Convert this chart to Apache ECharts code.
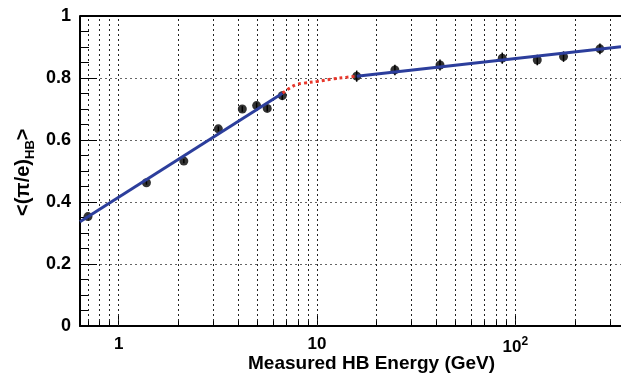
<!DOCTYPE html>
<html>
<head>
<meta charset="utf-8">
<script src="https://cdn.jsdelivr.net/npm/echarts@6/dist/echarts.min.js"></script>
<style>
html,body{margin:0;padding:0;background:#fff;}
#c{width:621px;height:376px;}
</style>
</head>
<body>
<div id="c"></div>
<script>
// ---- data ----
const energy = [0.70, 1.38, 2.13, 3.18, 4.20, 4.96, 5.61, 6.68, 15.85, 24.7, 41.7, 85.9, 129, 175, 267];
const ratio  = [0.353, 0.462, 0.532, 0.636, 0.700, 0.711, 0.702, 0.743, 0.806, 0.826, 0.842, 0.864, 0.858, 0.869, 0.894];
const errors = [0.006, 0.006, 0.007, 0.008, 0.009, 0.010, 0.010, 0.013, 0.018, 0.017, 0.018, 0.018, 0.017, 0.017, 0.017];

const fitLowX  = [0.638, 6.7];
const fitLowY  = [0.336, 0.751];
const fitHighX = [15.85, 341];
const fitHighY = [0.806, 0.901];
const transX = [6.7, 7.3, 7.9, 8.5, 10, 12, 14, 15.85];
const transY = [0.751, 0.768, 0.779, 0.783, 0.789, 0.797, 0.802, 0.806];

const xMin = 0.638, xMax = 341;
const gridX = [0.7, 0.8, 0.9, 1, 2, 3, 4, 5, 6, 7, 8, 9, 10, 20, 30, 40, 50, 60, 70, 80, 90, 100, 200, 300];
const majorX = [1, 10, 100];
const xLabels = {1: '1', 10: '10', 100: '{b|10}{s|2}'};

const FONT = '"Liberation Sans", Arial, Helvetica, sans-serif';

const zip = (a, b) => a.map((v, i) => [v, b[i]]);

const gridLines = gridX.map(v => ({xAxis: v}));
const minorTicks = gridX.filter(v => majorX.indexOf(v) < 0).map(v => [
  {coord: [v, 0]}, {coord: [v, 0.016]}
]);

const chart = echarts.init(document.getElementById('c'), null, {renderer: 'canvas'});
chart.setOption({
  animation: false,
  backgroundColor: '#fff',
  grid: {left: 80, right: 0, top: 16, bottom: 50, containLabel: false},
  xAxis: {
    type: 'log', logBase: 10, min: xMin, max: xMax,
    axisLine: {show: true, onZero: false, lineStyle: {color: '#000', width: 2}},
    axisTick: {show: true, inside: true, length: 10, lineStyle: {color: '#000', width: 1}},
    splitLine: {show: false},
    axisLabel: {
      show: true, margin: 10, showMinLabel: false, showMaxLabel: false,
      color: '#000', fontFamily: FONT, fontWeight: 'bold', fontSize: 17,
      formatter: function (v) {
        const r = Math.round(v);
        if (Math.abs(v - r) < 1e-6 && xLabels[r]) return xLabels[r];
        return '';
      },
      rich: {
        b: {fontFamily: FONT, fontWeight: 'bold', fontSize: 17, color: '#000'},
        s: {fontFamily: FONT, fontWeight: 'bold', fontSize: 12, color: '#000', verticalAlign: 'top', padding: [0, 0, 10, 0]}
      }
    }
  },
  yAxis: {
    type: 'value', min: 0, max: 1, interval: 0.2,
    axisLine: {show: true, lineStyle: {color: '#000', width: 2}},
    axisTick: {show: true, inside: true, length: 17, lineStyle: {color: '#000', width: 1}},
    minorTick: {show: true, splitNumber: 4, length: 9, lineStyle: {color: '#000', width: 1}},
    splitLine: {show: true, lineStyle: {color: '#666', type: [2, 3], width: 1}},
    axisLabel: {
      margin: 9, color: '#000', fontFamily: FONT, fontWeight: 'bold', fontSize: 18,
      formatter: v => String(Math.round(v * 10) / 10)
    }
  },
  graphic: [
    {
      type: 'text', left: 248, top: 354,
      style: {text: 'Measured HB Energy (GeV)', fill: '#000', font: 'bold 19px ' + FONT}
    },
    {
      type: 'text', x: 10, y: 216, rotation: Math.PI / 2,
      style: {
        text: '{a|<(π/e)}{b|HB}{a|>}',
        fill: '#000',
        rich: {
          a: {fontFamily: FONT, fontWeight: 'bold', fontSize: 20, fill: '#000', color: '#000'},
          b: {fontFamily: FONT, fontWeight: 'bold', fontSize: 13, fill: '#000', color: '#000', padding: [14, 0, 0, 0]}
        }
      }
    }
  ],
  series: [
    {
      name: 'grid', type: 'line', data: [], z: 1, silent: true,
      markLine: {
        silent: true, symbol: ['none', 'none'], label: {show: false}, animation: false,
        lineStyle: {color: '#222', type: [2, 3], width: 1},
        data: gridLines.concat([{yAxis: 1, lineStyle: {color: '#000', type: 'solid', width: 2}}])
          .concat(minorTicks.map(m => [Object.assign({}, m[0], {lineStyle: {color: '#000', type: 'solid', width: 1}}), m[1]]))
      }
    },
    {
      name: 'points', type: 'scatter', z: 3,
      data: zip(energy, ratio),
      symbol: 'circle', symbolSize: 9,
      itemStyle: {color: '#000'}
    },
    {
      name: 'errors', type: 'custom', z: 3,
      data: energy.map((e, i) => [e, ratio[i], errors[i]]),
      renderItem: function (params, api) {
        const x = api.value(0), y = api.value(1), er = api.value(2);
        const p1 = api.coord([x, y - er]);
        const p2 = api.coord([x, y + er]);
        return {
          type: 'line',
          shape: {x1: p1[0], y1: p1[1], x2: p2[0], y2: p2[1]},
          style: {stroke: '#000', lineWidth: 1.5}
        };
      }
    },
    {
      name: 'fitLow', type: 'line', z: 5, data: zip(fitLowX, fitLowY),
      symbol: 'none', lineStyle: {color: '#2c3e9c', width: 3}
    },
    {
      name: 'fitHigh', type: 'line', z: 5, data: zip(fitHighX, fitHighY),
      symbol: 'none', lineStyle: {color: '#2c3e9c', width: 3}
    },
    {
      name: 'transition', type: 'line', z: 5, data: zip(transX, transY),
      symbol: 'none', smooth: 0.4, lineStyle: {color: '#e8372b', width: 3, type: [3, 3]}
    }
  ]
});
</script>
</body>
</html>
